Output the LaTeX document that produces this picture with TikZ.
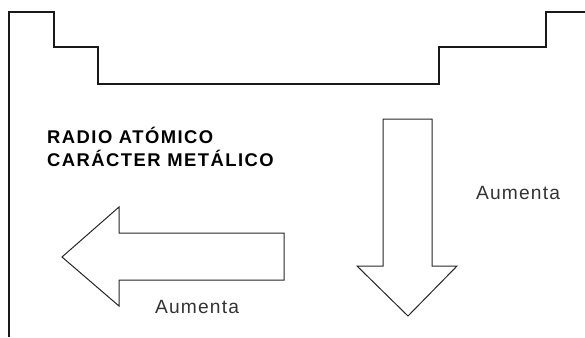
\documentclass[tikz,border=0pt]{standalone}
\usepackage{fontspec}
\setmainfont{Liberation Sans}
\begin{document}
\begin{tikzpicture}[x=1pt,y=-1pt,
  wall/.style={line width=2pt, draw=black!90, line join=miter},
  bigarrow/.style={draw=black!85, line width=1pt, line join=miter},
  heading/.style={anchor=base west, inner sep=0pt,
    font=\fontsize{18.4}{20}\selectfont\bfseries\addfontfeature{LetterSpace=8}},
  note/.style={anchor=base west, inner sep=0pt, text=black!80,
    font=\fontsize{19.2}{20}\selectfont\addfontfeature{LetterSpace=6}}]
\useasboundingbox (0,0) rectangle (585,337);

% stepped outline of the table
\draw[wall] (8.5,337) |- (54,12) |- (98,47) |- (439,84) |- (546,47) |- (585,12);

% labels
\node[heading] (radio) at (47,143) {RADIO ATÓMICO};
\node[heading] (metal) at (47,166.5) {CARÁCTER METÁLICO};

% arrow pointing left (across a period)
\draw[bigarrow] (284,233) -- (119,233) -- (119,207) -- (62,257) -- (119,306)
  -- (119,280) -- (284,280) -- cycle;
\node[note] (left) at (155,313) {Aumenta};

% arrow pointing down (along a group)
\draw[bigarrow] (383,119) -- (432,119) -- (432,266) -- (457,266) -- (408,316)
  -- (357,266) -- (383,266) -- cycle;
\node[note] (down) at (476,199) {Aumenta};
\end{tikzpicture}
\end{document}
